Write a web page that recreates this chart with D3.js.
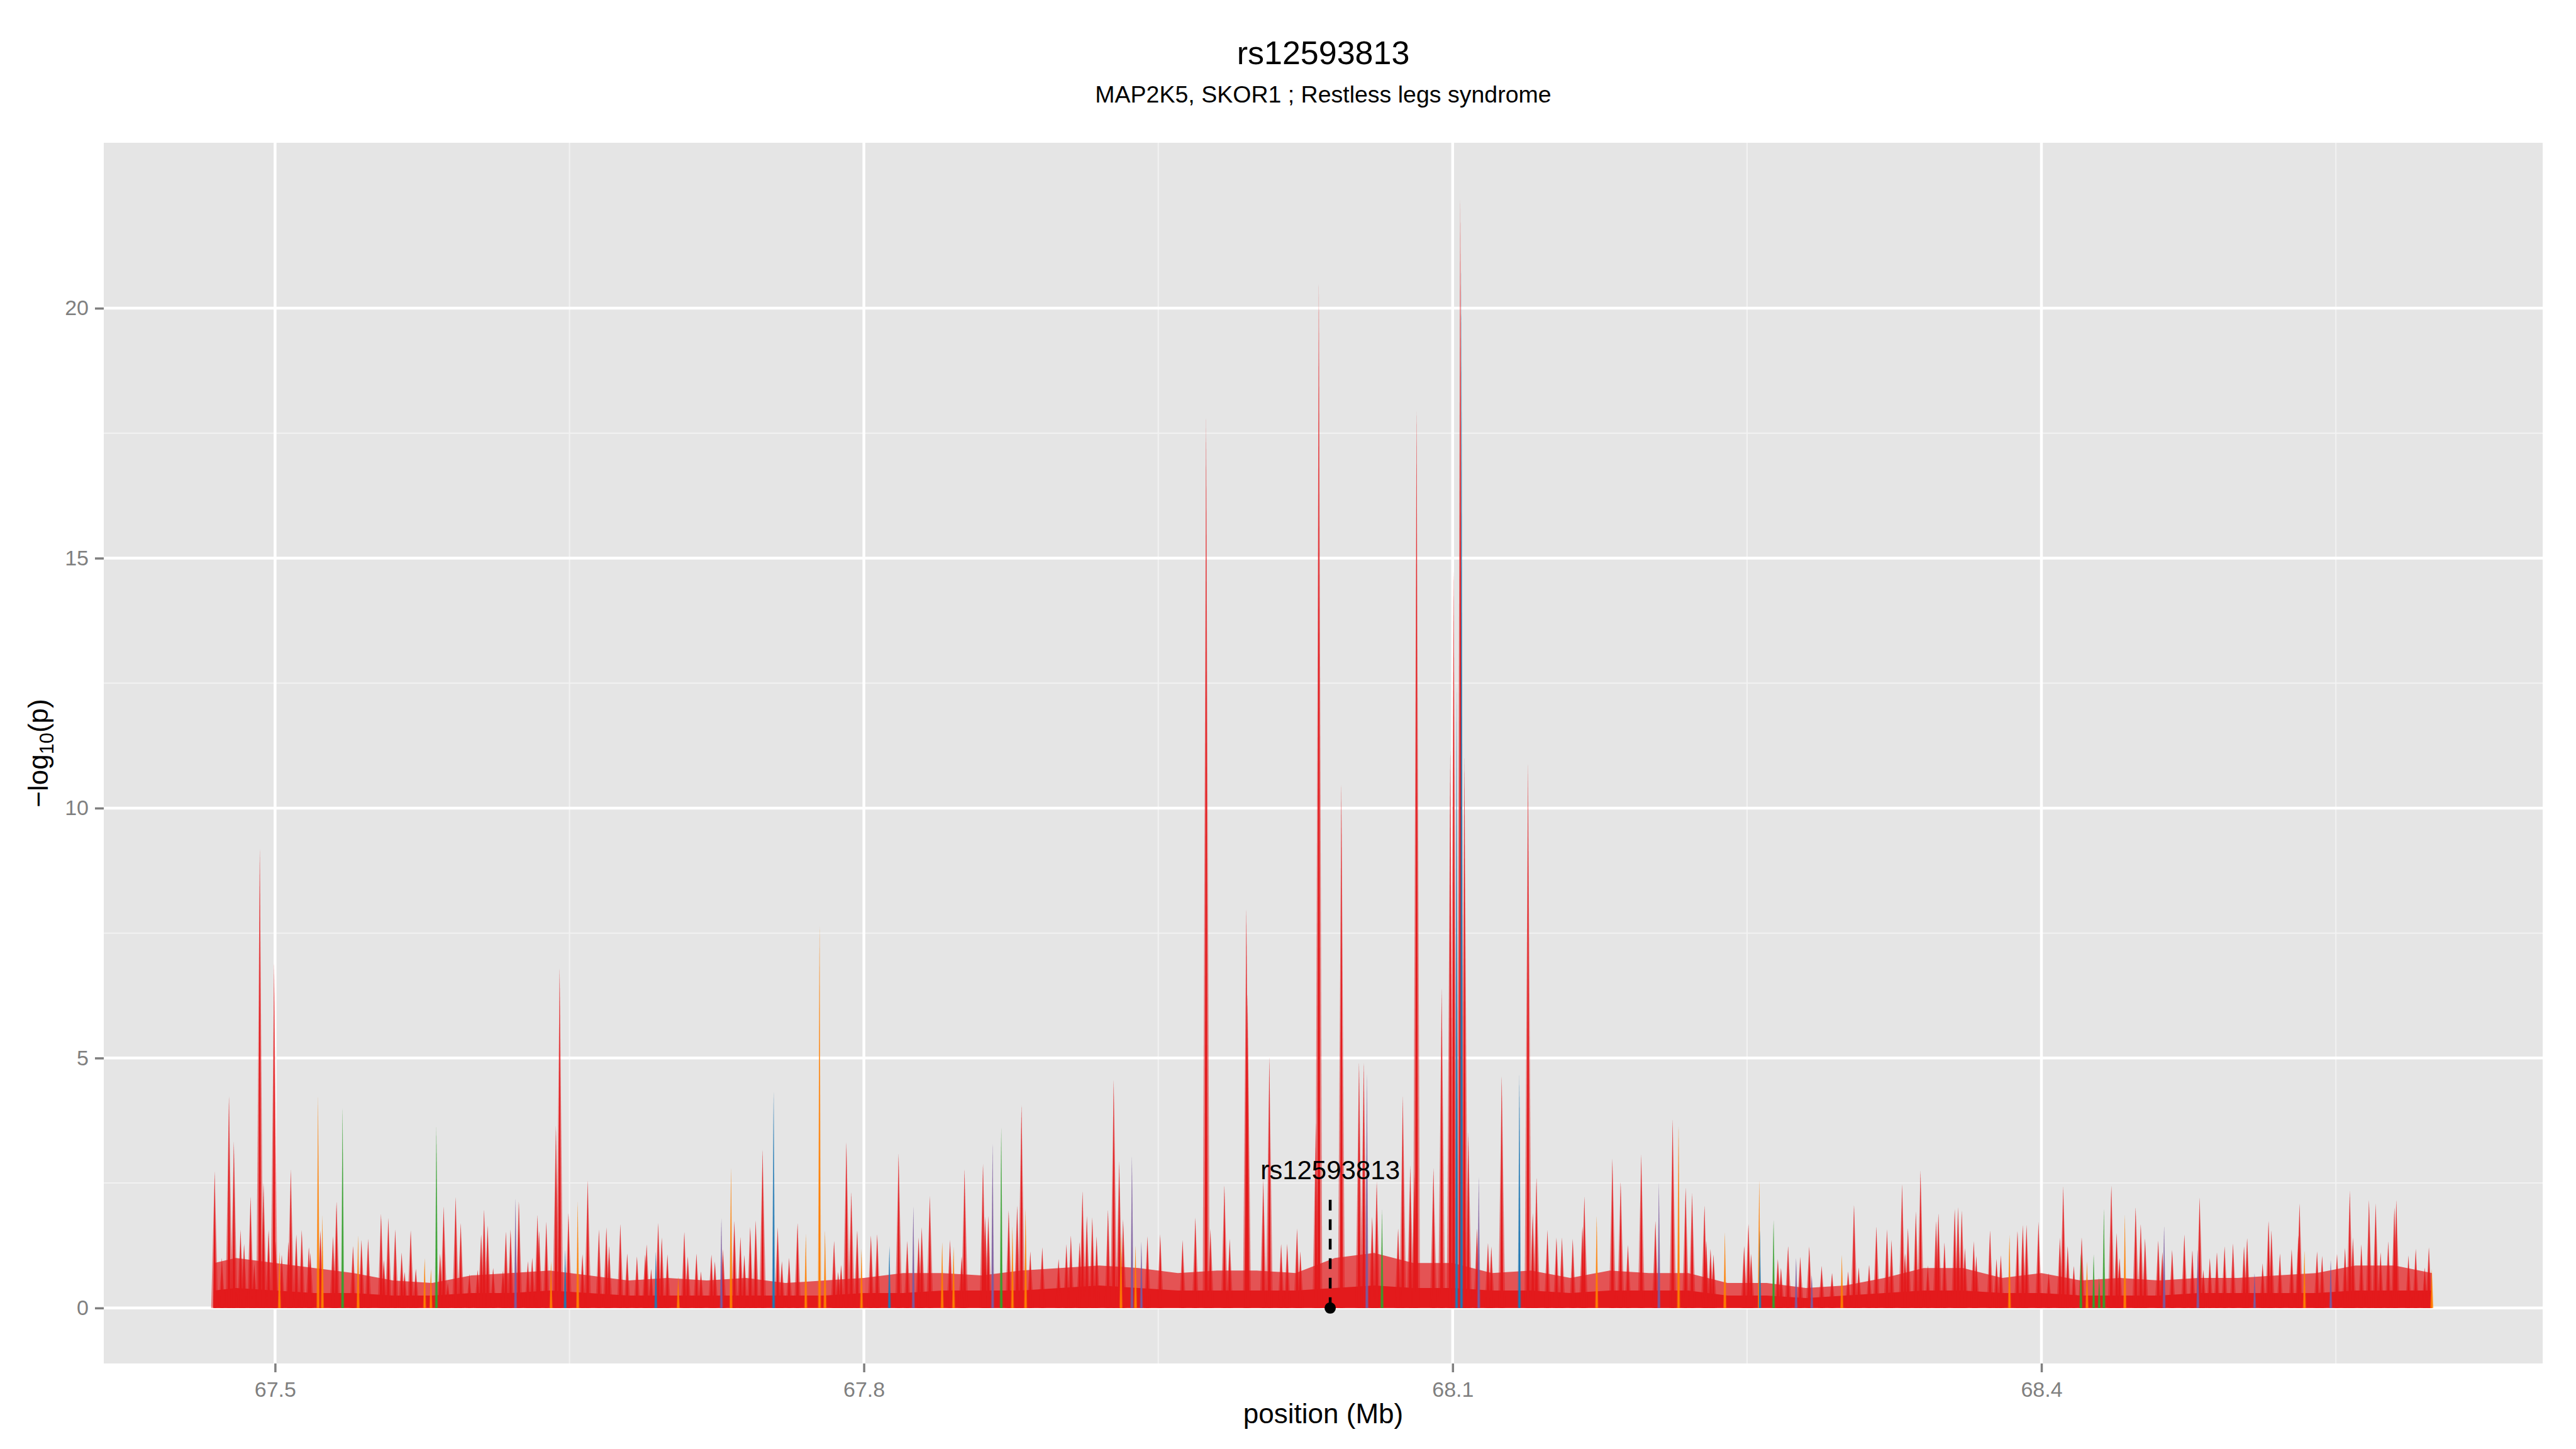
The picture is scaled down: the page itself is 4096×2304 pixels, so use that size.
<!DOCTYPE html>
<html>
<head>
<meta charset="utf-8">
<script src="https://cdn.jsdelivr.net/npm/d3@7"></script>
<style>
  html, body { margin: 0; padding: 0; background: #fff; }
  svg { display: block; font-family: "Liberation Sans", Arial, Helvetica, sans-serif; }
</style>
</head>
<body>
<div id="chart"></div>
<script>
// Chart text.
const titleText = "rs12593813";
const subtitleText = "MAP2K5, SKOR1 ; Restless legs syndrome";
const xLabel = "position (Mb)";

// Axis ticks.
const xTicks = [67.5, 67.8, 68.1, 68.4];
const xMinor = [67.65, 67.95, 68.25, 68.55];
const yTicks = [0, 5, 10, 15, 20];
const yMinor = [2.5, 7.5, 12.5, 17.5];

// Lead SNP annotation (position in Mb, dashed line top and label baseline in -log10 p).
const leadSnp = "rs12593813";
const leadPos = 68.0376;
const leadLineTop = 2.2;
const leadLabelY = 2.58;

// LD groups: 0 red, 1 orange, 2 green, 3 blue, 4 purple.
const ldColors = ["#E31A1C", "#FF7F00", "#33A02C", "#1F78B4", "#7B5A9E"];

// SNP peaks: position (Mb), -log10(p), LD group.
const snpPos = [
  67.4692, 67.4729, 67.4765, 67.4790, 67.4824, 67.4842, 67.4875, 67.4894, 67.4922, 67.4941,
  67.4967, 67.4995, 67.5002, 67.5022, 67.5034, 67.5068, 67.5080, 67.5108, 67.5136, 67.5172,
  67.5180, 67.5219, 67.5231, 67.5241, 67.5295, 67.5313, 67.5344, 67.5397, 67.5423, 67.5440,
  67.5474, 67.5540, 67.5554, 67.5577, 67.5612, 67.5645, 67.5660, 67.5691, 67.5717, 67.5762,
  67.5794, 67.5822, 67.5841, 67.5859, 67.5880, 67.5920, 67.5946, 67.5990, 67.6032, 67.6050,
  67.6065, 67.6083, 67.6111, 67.6161, 67.6176, 67.6200, 67.6225, 67.6242, 67.6288, 67.6310,
  67.6337, 67.6345, 67.6382, 67.6406, 67.6431, 67.6450, 67.6478, 67.6495, 67.6542,
  67.6566, 67.6593, 67.6650, 67.6688, 67.6702, 67.6759, 67.6794, 67.6844, 67.6886, 67.6893,
  67.6916, 67.6940, 67.6952, 67.6970, 67.6999, 67.7054, 67.7085, 67.7103, 67.7147, 67.7170,
  67.7223, 67.7241, 67.7274, 67.7282, 67.7323, 67.7340, 67.7371, 67.7391, 67.7421, 67.7449,
  67.7484, 67.7540, 67.7561, 67.7582, 67.7619, 67.7662, 67.7704, 67.7774, 67.7802, 67.7848,
  67.7869, 67.7884, 67.7911, 67.7936, 67.7966, 67.7988, 67.8036, 67.8068, 67.8130, 67.8177,
  67.8221, 67.8252, 67.8279, 67.8295, 67.8336, 67.8399, 67.8439, 67.8457,
  67.8498, 67.8513, 67.8607, 67.8618, 67.8634, 67.8656, 67.8700, 67.8738, 67.8757, 67.8781,
  67.8803, 67.8824, 67.8848, 67.8909, 67.8992, 67.9032, 67.9055, 67.9099, 67.9114, 67.9136,
  67.9164, 67.9186, 67.9244, 67.9273, 67.9301, 67.9310, 67.9321, 67.9366, 67.9384, 67.9414,
  67.9445, 67.9510, 67.9624, 67.9689, 67.9744, 67.9766, 67.9837, 67.9864, 67.9949, 67.9955,
  68.0035, 68.0066, 68.0126, 68.0157, 68.0207, 68.0224, 68.0303, 68.0318,
  68.0433, 68.0523, 68.0547, 68.0563, 68.0590, 68.0613, 68.0640, 68.0722, 68.0746, 68.0784,
  68.0805, 68.0816, 68.0902, 68.0944, 68.0988, 68.1005, 68.1020, 68.1039, 68.1045, 68.1060,
  68.1080, 68.1124, 68.1133, 68.1180, 68.1197, 68.1250, 68.1340, 68.1384, 68.1408, 68.1427,
  68.1483, 68.1529, 68.1557, 68.1612, 68.1661, 68.1671, 68.1734, 68.1814, 68.1856, 68.1893,
  68.1961, 68.2033, 68.2051, 68.2121, 68.2151, 68.2187, 68.2220, 68.2283,
  68.2292, 68.2314, 68.2329, 68.2387, 68.2485, 68.2507, 68.2521, 68.2562, 68.2565, 68.2635,
  68.2657, 68.2673, 68.2709, 68.2750, 68.2771, 68.2817, 68.2830, 68.2880, 68.2933, 68.2983,
  68.3015, 68.3045, 68.3069, 68.3122, 68.3159, 68.3213, 68.3236, 68.3290, 68.3305, 68.3320,
  68.3360, 68.3384, 68.3421, 68.3463, 68.3475, 68.3506, 68.3558, 68.3575, 68.3594, 68.3610,
  68.3655, 68.3668, 68.3738, 68.3771, 68.3793, 68.3837, 68.3878, 68.3905, 68.3924, 68.3985,
  68.4037, 68.4094, 68.4111, 68.4134, 68.4165, 68.4201,
  68.4205, 68.4232, 68.4266, 68.4294, 68.4318, 68.4356, 68.4383, 68.4398, 68.4425, 68.4480,
  68.4506, 68.4528, 68.4595, 68.4616, 68.4625, 68.4666, 68.4728, 68.4769, 68.4797, 68.4806,
  68.4825, 68.4858, 68.4894, 68.4933, 68.4976, 68.5032, 68.5048, 68.5086, 68.5127, 68.5157,
  68.5172, 68.5215, 68.5275, 68.5309, 68.5315, 68.5340, 68.5404, 68.5430, 68.5474, 68.5506,
  68.5547, 68.5571, 68.5587, 68.5630, 68.5669, 68.5703, 68.5728, 68.5767, 68.5798, 68.5808,
  68.5870, 68.5907, 68.5953, 68.5974, 68.5989
];

const snpLogP = [
  2.73, 1.00, 4.24, 3.33, 1.56, 1.28, 2.23, 0.88, 9.20, 2.50,
  1.56, 6.90, 1.34, 1.13, 1.06, 1.32, 2.77, 1.47, 1.56, 1.22,
  1.10, 4.24, 1.55, 1.85, 1.43, 2.13, 4.02, 1.24, 1.45, 1.36,
  1.38, 1.88, 0.96, 1.80, 1.57, 1.11, 0.72, 1.55, 0.78, 0.99,
  0.78, 3.62, 1.09, 2.03, 0.50, 2.22, 1.70, 0.68, 0.76, 1.47,
  1.97, 1.65, 0.80, 0.74, 1.53, 1.57, 2.20, 2.13, 0.93, 1.00,
  1.86, 1.54, 1.72, 0.93, 3.64, 6.80, 1.17, 1.90, 2.13,
  1.07, 2.55, 1.57, 1.61, 1.24, 1.68, 1.09, 1.03, 1.07, 1.27,
  0.78, 1.13, 1.70, 1.41, 1.07, 0.63, 1.52, 1.03, 1.09, 0.73,
  1.07, 0.93, 1.79, 1.17, 2.81, 1.74, 1.42, 1.06, 1.62, 1.75,
  3.17, 4.35, 1.61, 0.93, 1.00, 1.70, 1.48, 7.70, 1.56, 1.34,
  0.72, 0.86, 3.32, 2.32, 1.55, 1.18, 1.45, 1.48, 1.24, 3.09,
  1.34, 2.04, 1.41, 1.61, 2.24, 1.32, 1.36, 1.22,
  1.03, 2.78, 2.88, 1.82, 1.84, 3.31, 3.62, 1.95, 1.63, 2.05,
  4.07, 1.99, 1.13, 1.21, 0.98, 1.27, 1.45, 1.32, 2.34, 1.84,
  1.81, 1.43, 1.97, 4.57, 2.93, 1.48, 1.77, 3.05, 1.25, 1.33,
  1.43, 1.47, 1.36, 1.81, 17.80, 1.58, 2.46, 1.38, 8.00, 6.30,
  2.57, 5.02, 1.28, 1.28, 1.59, 1.13, 3.70, 20.50,
  10.50, 4.92, 4.92, 4.72, 1.82, 2.53, 1.97, 1.59, 4.24, 2.85,
  2.68, 18.00, 2.80, 6.40, 11.20, 14.80, 12.50, 22.20, 20.80, 11.00,
  3.51, 1.59, 2.64, 1.30, 1.23, 4.65, 4.67, 10.90, 1.90, 2.61,
  1.56, 1.41, 1.41, 1.38, 1.63, 2.23, 1.85, 2.99, 2.53, 1.26,
  3.07, 1.74, 2.50, 3.78, 3.67, 2.41, 2.30, 2.05,
  1.34, 1.18, 1.07, 1.51, 1.24, 1.68, 1.08, 2.56, 1.56, 1.76,
  0.98, 0.80, 1.24, 1.00, 1.02, 1.23, 0.65, 0.84, 0.70, 1.06,
  0.73, 2.06, 0.81, 0.86, 1.63, 1.57, 1.36, 2.48, 1.09, 1.60,
  1.93, 2.75, 0.85, 1.74, 1.89, 1.31, 1.98, 2.02, 1.95, 1.20,
  1.33, 1.04, 1.55, 0.98, 1.05, 1.46, 1.54, 1.66, 1.66, 1.72,
  0.70, 1.41, 2.43, 1.24, 0.84, 1.09,
  1.41, 0.93, 1.07, 0.61, 1.99, 2.45, 1.50, 1.00, 1.87, 2.02,
  1.68, 1.39, 1.35, 1.12, 1.65, 1.16, 1.47, 1.15, 1.17, 2.21,
  0.76, 1.00, 1.11, 1.23, 1.29, 1.23, 1.40, 0.70, 0.89, 1.74,
  1.55, 1.09, 1.17, 1.45, 2.09, 1.15, 1.13, 1.04, 0.96, 1.08,
  1.20, 2.34, 1.41, 1.27, 2.16, 2.09, 1.11, 1.33, 2.01, 2.16,
  1.05, 1.18, 0.81, 1.21, 0.78
];

const snpLD = [
  0, 0, 0, 0, 0, 0, 0, 0, 0, 0,
  0, 0, 0, 1, 0, 0, 0, 0, 0, 0,
  0, 1, 0, 1, 0, 0, 2, 0, 1, 0,
  0, 0, 0, 0, 0, 0, 0, 0, 0, 1,
  1, 2, 0, 0, 0, 0, 0, 0, 0, 0,
  0, 0, 0, 0, 0, 0, 4, 0, 0, 0,
  0, 0, 0, 1, 0, 0, 3, 0, 1,
  0, 0, 0, 0, 0, 0, 0, 0, 0, 0,
  0, 3, 0, 0, 0, 1, 0, 0, 0, 0,
  0, 0, 4, 0, 1, 0, 0, 0, 0, 0,
  0, 3, 0, 0, 0, 0, 1, 1, 1, 0,
  0, 0, 0, 0, 0, 1, 0, 0, 3, 0,
  0, 4, 0, 0, 0, 1, 0, 1,
  0, 0, 0, 0, 0, 4, 2, 0, 1, 0,
  0, 1, 0, 0, 0, 0, 0, 0, 0, 0,
  0, 0, 0, 0, 0, 1, 0, 4, 1, 4,
  0, 0, 0, 0, 0, 0, 0, 0, 0, 0,
  0, 0, 0, 0, 0, 0, 0, 0,
  0, 0, 0, 4, 0, 0, 2, 0, 0, 0,
  0, 0, 0, 0, 0, 0, 3, 0, 3, 0,
  0, 0, 4, 0, 0, 0, 3, 0, 0, 0,
  0, 0, 0, 0, 0, 0, 1, 0, 0, 0,
  0, 0, 4, 0, 1, 0, 0, 0,
  0, 0, 0, 1, 0, 0, 0, 1, 3, 2,
  0, 0, 0, 4, 0, 0, 4, 0, 0, 1,
  0, 0, 0, 0, 0, 0, 0, 0, 0, 0,
  0, 0, 0, 0, 0, 0, 0, 0, 0, 0,
  0, 0, 0, 0, 0, 1, 0, 0, 0, 0,
  0, 0, 0, 0, 0, 2,
  0, 1, 2, 2, 2, 0, 0, 0, 1, 0,
  0, 0, 0, 0, 4, 0, 0, 0, 4, 0,
  0, 0, 0, 0, 0, 0, 0, 4, 0, 0,
  0, 0, 0, 0, 0, 1, 0, 0, 4, 0,
  0, 0, 0, 0, 0, 0, 0, 0, 0, 0,
  0, 0, 0, 0, 1
];

// Dense low-level mass of SNPs under the peaks: position (Mb), solid level and haze level.
const floorPos = [
  67.469, 67.48, 67.50, 67.52, 67.54, 67.56, 67.58, 67.60, 67.62, 67.64,
  67.66, 67.68, 67.70, 67.72, 67.74, 67.76, 67.78, 67.80, 67.82, 67.84,
  67.86, 67.88, 67.90, 67.92, 67.94, 67.96, 67.98, 68.00, 68.02, 68.04,
  68.06, 68.08, 68.10, 68.12, 68.14, 68.16, 68.18, 68.20, 68.22, 68.24,
  68.26, 68.28, 68.30, 68.32, 68.34, 68.36, 68.38, 68.40, 68.42, 68.44,
  68.46, 68.48, 68.50, 68.52, 68.54, 68.56, 68.58, 68.599
];
const floorSolid = [
  0.35, 0.40, 0.35, 0.30, 0.30, 0.25, 0.25, 0.30, 0.30, 0.35,
  0.30, 0.25, 0.25, 0.25, 0.25, 0.25, 0.25, 0.30, 0.30, 0.35,
  0.35, 0.35, 0.40, 0.45, 0.40, 0.35, 0.35, 0.35, 0.35, 0.40,
  0.45, 0.40, 0.40, 0.35, 0.35, 0.30, 0.35, 0.35, 0.35, 0.25,
  0.25, 0.20, 0.25, 0.30, 0.35, 0.35, 0.30, 0.30, 0.25, 0.25,
  0.25, 0.30, 0.30, 0.30, 0.30, 0.35, 0.35, 0.35
];
const floorHaze = [
  0.90, 1.00, 0.90, 0.80, 0.70, 0.55, 0.50, 0.65, 0.70, 0.75,
  0.65, 0.55, 0.60, 0.55, 0.60, 0.50, 0.55, 0.60, 0.70, 0.70,
  0.65, 0.75, 0.80, 0.85, 0.80, 0.70, 0.75, 0.75, 0.70, 1.00,
  1.10, 0.90, 0.90, 0.70, 0.75, 0.60, 0.75, 0.70, 0.70, 0.50,
  0.50, 0.40, 0.45, 0.60, 0.80, 0.80, 0.60, 0.70, 0.55, 0.60,
  0.55, 0.60, 0.60, 0.65, 0.70, 0.85, 0.85, 0.70
];

// Page and panel geometry (4096 x 2304).
const width = 4096;
const height = 2304;
const margin = { top: 227, right: 53, bottom: 136, left: 165 };

// Font sizes.
const fs = { title: 52, subtitle: 37.5, tick: 34, axisTitle: 44, label: 42 };

const svg = d3.select("#chart")
  .append("svg")
  .attr("width", width)
  .attr("height", height)
  .attr("viewBox", [0, 0, width, height]);

svg.append("rect")
  .attr("width", width)
  .attr("height", height)
  .attr("fill", "#ffffff");

// Scales with the ggplot 5% expansion on both axes.
const xExt = d3.extent(snpPos);
const xPad = (xExt[1] - xExt[0]) * 0.05;
const x = d3.scaleLinear()
  .domain([xExt[0] - xPad, xExt[1] + xPad])
  .range([margin.left, width - margin.right]);

const yMax = d3.max(snpLogP);
const yPad = yMax * 0.05;
const y = d3.scaleLinear()
  .domain([-yPad, yMax + yPad])
  .range([height - margin.bottom, margin.top]);

// Panel background.
svg.append("rect")
  .attr("x", margin.left)
  .attr("y", margin.top)
  .attr("width", width - margin.left - margin.right)
  .attr("height", height - margin.top - margin.bottom)
  .attr("fill", "#E5E5E5");

// Grid lines: minor first, then major.
const grid = svg.append("g");
grid.selectAll("line.xminor")
  .data(xMinor)
  .join("line")
    .attr("x1", d => x(d)).attr("x2", d => x(d))
    .attr("y1", margin.top).attr("y2", height - margin.bottom)
    .attr("stroke", "#F2F2F2").attr("stroke-width", 2);
grid.selectAll("line.yminor")
  .data(yMinor)
  .join("line")
    .attr("x1", margin.left).attr("x2", width - margin.right)
    .attr("y1", d => y(d)).attr("y2", d => y(d))
    .attr("stroke", "#F2F2F2").attr("stroke-width", 2);
grid.selectAll("line.xmajor")
  .data(xTicks)
  .join("line")
    .attr("x1", d => x(d)).attr("x2", d => x(d))
    .attr("y1", margin.top).attr("y2", height - margin.bottom)
    .attr("stroke", "#ffffff").attr("stroke-width", 4.5);
grid.selectAll("line.ymajor")
  .data(yTicks)
  .join("line")
    .attr("x1", margin.left).attr("x2", width - margin.right)
    .attr("y1", d => y(d)).attr("y2", d => y(d))
    .attr("stroke", "#ffffff").attr("stroke-width", 4.5);

// Dense floor of low signal.
const floorData = floorPos.map((p, i) => ({ pos: p, solid: floorSolid[i], haze: floorHaze[i] }));

svg.append("path")
  .datum(floorData)
  .attr("fill", ldColors[0])
  .attr("fill-opacity", 0.72)
  .attr("d", d3.area()
    .curve(d3.curveLinear)
    .x(d => x(d.pos))
    .y0(y(0))
    .y1(d => y(d.haze)));

svg.append("path")
  .datum(floorData)
  .attr("fill", ldColors[0])
  .attr("d", d3.area()
    .curve(d3.curveLinear)
    .x(d => x(d.pos))
    .y0(y(0))
    .y1(d => y(d.solid)));

// Peaks, each drawn as a narrow spike (halo + core), red first then coloured groups on top.
const snps = snpPos.map((p, i) => ({ pos: p, logp: snpLogP[i], ld: snpLD[i] }));

const spike = (halfWidth) => d3.area()
  .x(d => x(d.pos) + d.side * halfWidth)
  .y0(y(0))
  .y1(d => y(d.v));

const spikePoints = d => [
  { pos: d.pos, side: -1, v: 0 },
  { pos: d.pos, side: 0, v: d.logp },
  { pos: d.pos, side: 1, v: 0 }
];

const drawSpikes = (data, halo, core, haloOpacity) => {
  const g = svg.append("g");
  g.selectAll("path.halo")
    .data(data)
    .join("path")
      .attr("class", "halo")
      .attr("fill", d => ldColors[d.ld])
      .attr("fill-opacity", haloOpacity)
      .attr("d", d => spike(halo)(spikePoints(d)));
  g.selectAll("path.core")
    .data(data)
    .join("path")
      .attr("class", "core")
      .attr("fill", d => ldColors[d.ld])
      .attr("d", d => spike(core)(spikePoints(d)));
};

drawSpikes(snps.filter(d => d.ld === 0), 5.5, 2.4, 0.5);
drawSpikes(snps.filter(d => d.ld !== 0), 2.6, 1.3, 0.55);

// Lead SNP marker.
const lead = svg.append("g");
lead.append("line")
  .attr("x1", x(leadPos)).attr("x2", x(leadPos))
  .attr("y1", y(0)).attr("y2", y(leadLineTop))
  .attr("stroke", "#000")
  .attr("stroke-width", 4.5)
  .attr("stroke-dasharray", "17,14");
lead.append("circle")
  .attr("cx", x(leadPos))
  .attr("cy", y(0))
  .attr("r", 9)
  .attr("fill", "#000");
lead.append("text")
  .attr("x", x(leadPos))
  .attr("y", y(leadLabelY))
  .attr("text-anchor", "middle")
  .attr("font-size", fs.label)
  .attr("fill", "#000")
  .text(leadSnp);

// X axis.
const xAxis = svg.append("g")
  .attr("transform", `translate(0,${height - margin.bottom})`)
  .call(d3.axisBottom(x).tickValues(xTicks).tickFormat(d3.format(".1f")).tickSize(14).tickPadding(15));
xAxis.select(".domain").remove();
xAxis.selectAll(".tick line").attr("stroke", "#7F7F7F").attr("stroke-width", 3.5);
xAxis.selectAll(".tick text")
  .attr("fill", "#7F7F7F")
  .attr("font-size", fs.tick)
  .attr("font-family", "Liberation Sans, Arial, sans-serif");

// Y axis.
const yAxis = svg.append("g")
  .attr("transform", `translate(${margin.left},0)`)
  .call(d3.axisLeft(y).tickValues(yTicks).tickFormat(d3.format("d")).tickSize(14).tickPadding(10));
yAxis.select(".domain").remove();
yAxis.selectAll(".tick line").attr("stroke", "#7F7F7F").attr("stroke-width", 3.5);
yAxis.selectAll(".tick text")
  .attr("fill", "#7F7F7F")
  .attr("font-size", fs.tick)
  .attr("font-family", "Liberation Sans, Arial, sans-serif");

// Titles.
const panelMid = (margin.left + width - margin.right) / 2;

svg.append("text")
  .attr("x", panelMid)
  .attr("y", 102)
  .attr("text-anchor", "middle")
  .attr("font-size", fs.title)
  .text(titleText);

svg.append("text")
  .attr("x", panelMid)
  .attr("y", 163)
  .attr("text-anchor", "middle")
  .attr("font-size", fs.subtitle)
  .text(subtitleText);

svg.append("text")
  .attr("x", panelMid)
  .attr("y", 2263)
  .attr("text-anchor", "middle")
  .attr("font-size", fs.axisTitle)
  .text(xLabel);

// Y axis title with subscript 10.
const yTitle = svg.append("text")
  .attr("transform", `translate(76,${(margin.top + height - margin.bottom) / 2}) rotate(-90)`)
  .attr("text-anchor", "middle")
  .attr("font-size", fs.axisTitle);
yTitle.append("tspan").text("\u2212log");
yTitle.append("tspan").attr("font-size", fs.axisTitle * 0.7).attr("dy", 9).text("10");
yTitle.append("tspan").attr("dy", -9).text("(p)");
</script>
</body>
</html>
